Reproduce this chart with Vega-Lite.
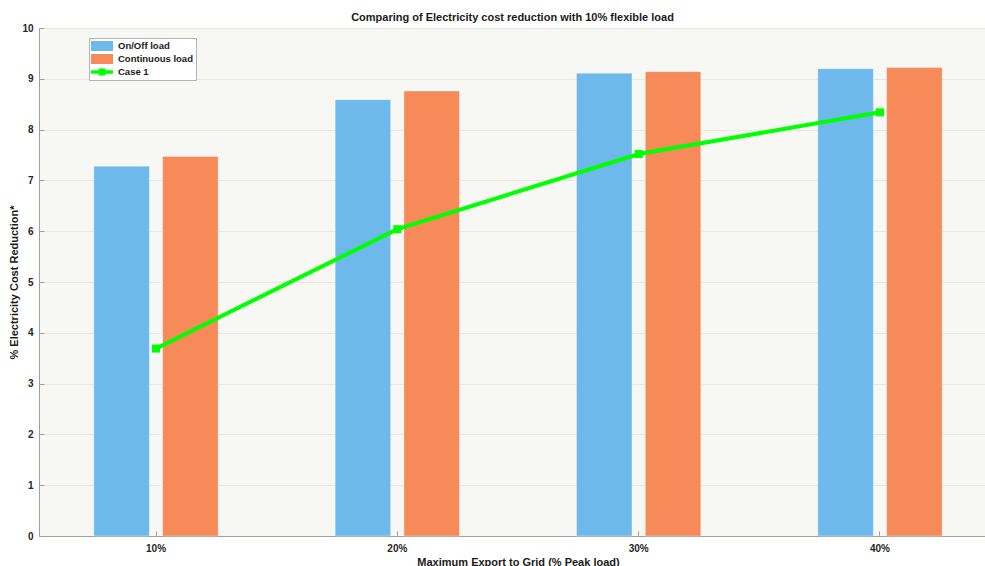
{
  "$schema": "https://vega.github.io/schema/vega-lite/v6.json",
  "width": 947,
  "height": 508,
  "autosize": {"type": "none"},
  "padding": {"left": 39, "top": 28, "right": 0, "bottom": 30},
  "background": "white",
  "title": {
    "text": "Comparing of Electricity cost reduction with 10% flexible load",
    "font": "Liberation Sans",
    "fontSize": 11,
    "fontWeight": "bold",
    "color": "#1a1a1a",
    "anchor": "middle",
    "frame": "group",
    "offset": 0
  },
  "config": {
    "view": {"fill": "#f7f7f3", "stroke": "#a8a8a8", "strokeWidth": 1},
    "font": "Liberation Sans"
  },
  "data": {
    "values": [
      {"export": "10%", "series": "On/Off load", "value": 7.28},
      {"export": "10%", "series": "Continuous load", "value": 7.47},
      {"export": "10%", "series": "Case 1", "value": 3.69},
      {"export": "20%", "series": "On/Off load", "value": 8.59},
      {"export": "20%", "series": "Continuous load", "value": 8.76},
      {"export": "20%", "series": "Case 1", "value": 6.04},
      {"export": "30%", "series": "On/Off load", "value": 9.11},
      {"export": "30%", "series": "Continuous load", "value": 9.14},
      {"export": "30%", "series": "Case 1", "value": 7.52},
      {"export": "40%", "series": "On/Off load", "value": 9.2},
      {"export": "40%", "series": "Continuous load", "value": 9.22},
      {"export": "40%", "series": "Case 1", "value": 8.34}
    ]
  },
  "encoding": {
    "x": {
      "field": "export",
      "type": "nominal",
      "sort": ["10%", "20%", "30%", "40%"],
      "scale": {"type": "band", "range": [0, 958], "paddingInner": 0.485, "paddingOuter": 0.2274},
      "axis": {
        "title": "Maximum Export to Grid (% Peak load)",
        "titleFont": "Liberation Sans",
        "titleFontSize": 11,
        "titleFontWeight": "bold",
        "titleColor": "#1a1a1a",
        "titlePadding": 3,
        "labelFont": "Liberation Sans",
        "labelFontSize": 10,
        "labelFontWeight": "bold",
        "labelColor": "#262626",
        "labelAngle": 0,
        "labelPadding": 12,
        "domainColor": "#a0a0a0",
        "tickColor": "#a0a0a0",
        "tickSize": -5,
        "grid": false
      }
    },
    "y": {
      "field": "value",
      "type": "quantitative",
      "scale": {"domain": [0, 10], "nice": false},
      "axis": {
        "title": "% Electricity Cost Reduction*",
        "titleFont": "Liberation Sans",
        "titleFontSize": 11,
        "titleFontWeight": "bold",
        "titleColor": "#1a1a1a",
        "titlePadding": 2,
        "values": [0, 1, 2, 3, 4, 5, 6, 7, 8, 9, 10],
        "labelFont": "Liberation Sans",
        "labelFontSize": 10,
        "labelFontWeight": "bold",
        "labelColor": "#262626",
        "labelPadding": 11,
        "domainColor": "#a0a0a0",
        "tickColor": "#a0a0a0",
        "tickSize": -5,
        "grid": true,
        "gridColor": "#e8e8e3",
        "gridWidth": 1
      }
    },
    "color": {
      "field": "series",
      "type": "nominal",
      "scale": {
        "domain": ["On/Off load", "Continuous load", "Case 1"],
        "range": ["#6db9ec", "#f68a59", "#00ff00"]
      },
      "legend": {
        "title": null,
        "orient": "none",
        "legendX": 50,
        "legendY": 10,
        "padding": 3,
        "fillColor": "white",
        "strokeColor": "#b4b4b4",
        "labelFont": "Liberation Sans",
        "labelFontSize": 9.5,
        "labelFontWeight": "bold",
        "labelColor": "#1a1a1a",
        "symbolSize": 100,
        "symbolStrokeWidth": 0,
        "symbolOpacity": 1,
        "symbolOffset": 5,
        "labelOffset": 11,
        "rowPadding": 3,
        "encode": {
          "symbols": {
            "update": {
              "shape": {"signal": "datum.value === 'Case 1' ? 'M-2.2,-0.35H2.2V0.35H-2.2Z M-0.7,-0.7H0.7V0.7H-0.7Z' : 'M-2.2,-1H2.2V1H-2.2Z'"},
              "fill": {"signal": "datum.value === 'Case 1' ? '#00ff00' : datum.value === 'On/Off load' ? '#6db9ec' : '#f68a59'"},
              "strokeWidth": {"value": 0}
            }
          }
        }
      }
    }
  },
  "layer": [
    {
      "transform": [{"filter": "datum.series !== 'Case 1'"}],
      "mark": {"type": "bar", "stroke": "#ffffff", "strokeOpacity": 0.35, "strokeWidth": 1},
      "encoding": {
        "xOffset": {
          "field": "series",
          "type": "nominal",
          "sort": ["On/Off load", "Continuous load"],
          "scale": {"paddingInner": 0.193, "paddingOuter": 0}
        }
      }
    },
    {
      "transform": [{"filter": "datum.series === 'Case 1'"}],
      "mark": {"type": "line", "strokeWidth": 4},
      "encoding": {}
    },
    {
      "transform": [{"filter": "datum.series === 'Case 1'"}],
      "mark": {"type": "point", "shape": "square", "filled": true, "size": 64, "opacity": 1},
      "encoding": {}
    }
  ]
}
